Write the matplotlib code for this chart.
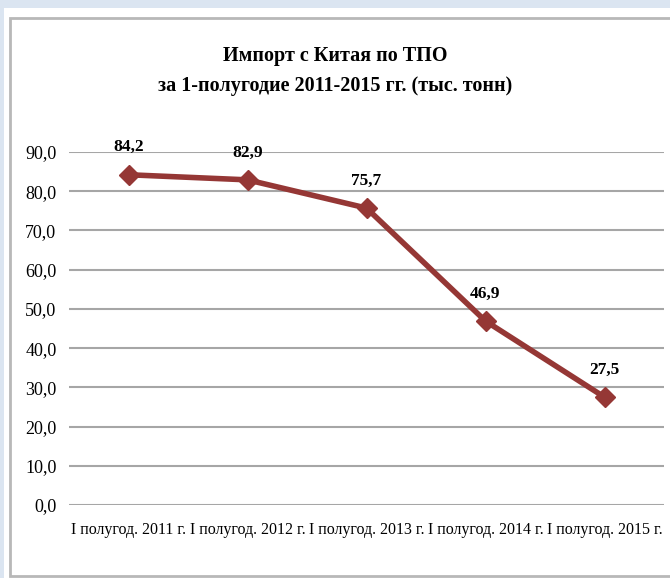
import matplotlib.pyplot as plt
from matplotlib.patches import Rectangle

categories = ["I полугод. 2011 г.", "I полугод. 2012 г.", "I полугод. 2013 г.",
              "I полугод. 2014 г.", "I полугод. 2015 г."]
values = [84.2, 82.9, 75.7, 46.9, 27.5]
yticks = [0, 10, 20, 30, 40, 50, 60, 70, 80, 90]
title = "Импорт с Китая по ТПО\nза 1-полугодие 2011-2015 гг. (тыс. тонн)"

plt.rcParams["font.family"] = ["Liberation Serif", "DejaVu Serif"]

W, H = 670.0, 578.0
fig = plt.figure(figsize=(6.7, 5.78), dpi=100)
fig.patch.set_facecolor("#dbe5f1")

# background: white page with grey chart frame
bg = fig.add_axes([0, 0, 1, 1], zorder=-10)
bg.set_xlim(0, W)
bg.set_ylim(H, 0)
bg.axis("off")
bg.add_patch(Rectangle((4, 8), W, H, facecolor="white", edgecolor="none"))
bg.add_patch(Rectangle((10, 18), W, 576 - 18, facecolor="white",
                       edgecolor="#b8b8b8", linewidth=2))

ax = fig.add_axes([69 / W, 1 - 505 / H, (664 - 69) / W, (505 - 152) / H])
ax.set_facecolor("none")

x = list(range(len(values)))
ax.plot(x, values, color="#953735", linewidth=4, marker="D", markersize=10,
        solid_capstyle="round", zorder=3)
for xi, v in zip(x, values):
    ax.annotate(("%.1f" % v).replace(".", ","), (xi, v), xytext=(0, 14),
                textcoords="offset points", ha="center", va="bottom",
                fontsize=12.5, fontweight="bold")

ax.set_xlim(-0.5, len(values) - 0.5)
ax.set_ylim(0, 90)
ax.set_yticks(yticks)
ax.set_yticklabels([("%.1f" % t).replace(".", ",") for t in yticks], fontsize=13)
ax.set_xticks(x)
ax.set_xticklabels(categories, fontsize=11.5)
ax.tick_params(length=0)
ax.tick_params(axis="x", pad=12)
ax.tick_params(axis="y", pad=9)
ax.grid(axis="y", color="#a6a6a6", linewidth=1.5)
ax.set_axisbelow(True)
for s in ax.spines.values():
    s.set_visible(False)

fig.text(0.5, 1 - 71 / H, title, ha="center", va="center", fontsize=14.5,
         fontweight="bold", linespacing=1.6)

fig.savefig("out.png", dpi=100)
